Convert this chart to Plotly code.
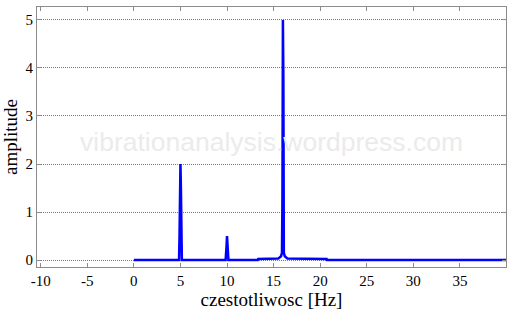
import plotly.graph_objects as go

freq = [0, 4.85, 4.9, 4.95, 5.0, 5.05, 5.1, 5.15, 9.85, 9.9, 9.95, 10.0, 10.05, 10.1, 10.15,
        13.3, 13.35, 15.5, 15.8, 15.9, 15.95, 16.0, 16.05, 16.1, 16.2, 16.5, 20.7, 20.75, 40]
amp = [0, 0, 0.5, 1.5, 2.0, 1.5, 0.5, 0, 0, 0.1, 0.3, 0.5, 0.3, 0.1, 0,
       0, 0.02, 0.03, 0.08, 0.15, 1.3, 5.0, 3.75, 0.15, 0.08, 0.03, 0.02, 0, 0]
x_ticks = [-10, -5, 0, 5, 10, 15, 20, 25, 30, 35]
y_ticks = [0, 1, 2, 3, 4, 5]
watermark = "vibrationanalysis.wordpress.com"

fig = go.Figure()
# watermark underneath the data, on an invisible overlay axis
fig.add_trace(go.Scatter(x=[0.5], y=[0.47], mode="text", text=[watermark],
                         textfont=dict(family="Liberation Sans", size=26.5, color="#ebebeb"),
                         xaxis="x2", yaxis="y2", hoverinfo="skip", showlegend=False))
fig.add_trace(go.Scatter(x=freq, y=amp, mode="lines",
                         line=dict(color="#0000ff", width=2.5), showlegend=False))

axis_common = dict(showline=True, linecolor="#8c8c8c", linewidth=1, mirror="ticks",
                   ticks="inside", ticklen=4, tickcolor="#8c8c8c",
                   tickfont=dict(family="Liberation Serif", size=15, color="black"),
                   zeroline=False)

fig.update_layout(
    width=513, height=311,
    margin=dict(l=37, r=7, t=6, b=43),
    paper_bgcolor="white", plot_bgcolor="white",
    xaxis=dict(range=[-10.4, 39.95], tickvals=x_ticks, ticktext=[str(v) for v in x_ticks],
               showgrid=False,
               title=dict(text="czestotliwosc [Hz]", standoff=3,
                          font=dict(family="Liberation Serif", size=19, color="black")),
               **axis_common),
    yaxis=dict(range=[-0.145, 5.27], tickvals=y_ticks, showgrid=True,
               gridcolor="#7a7a7a", griddash="1px,1px", gridwidth=1,
               title=dict(text="amplitude", standoff=4,
                          font=dict(family="Liberation Serif", size=19, color="black")),
               **axis_common),
    xaxis2=dict(range=[0, 1], overlaying="x", visible=False),
    yaxis2=dict(range=[0, 1], overlaying="y", visible=False),
)

fig.write_html("out.html")
